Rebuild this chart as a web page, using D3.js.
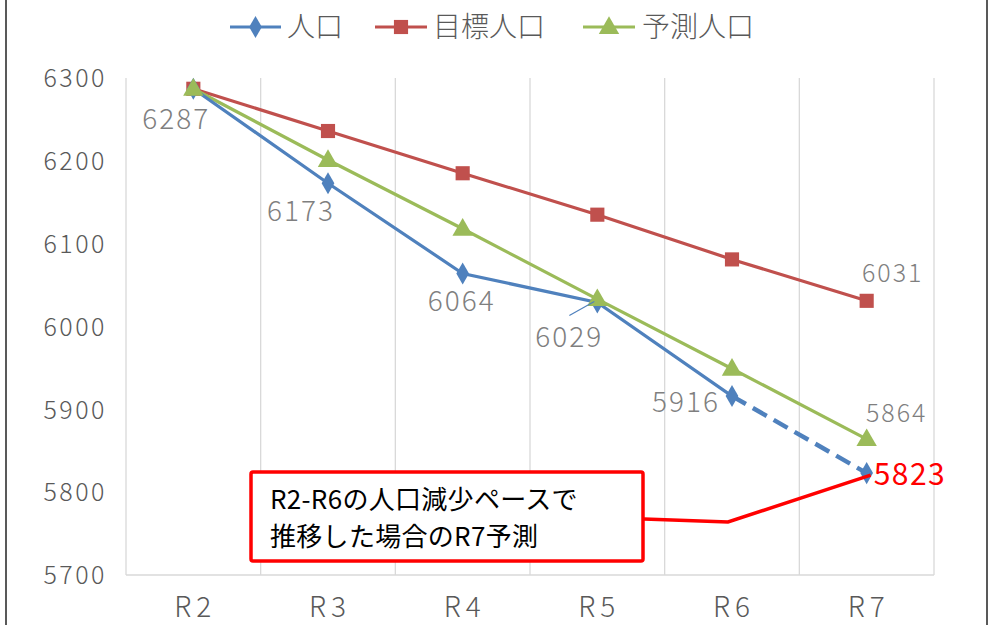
<!DOCTYPE html>
<html><head><meta charset="utf-8">
<script src="https://cdn.jsdelivr.net/npm/d3@7"></script>
<style>
html,body{margin:0;padding:0;background:#fff;}
svg{display:block;font-family:"Noto Sans CJK JP","Noto Sans",sans-serif;}
</style></head>
<body>
<script>
const categories = ["R2","R3","R4","R5","R6","R7"];
const population = [6287, 6173, 6064, 6029, 5916, 5823];
const targetPopulation = [6287, 6236, 6185, 6135, 6081, 6031];
const forecastPopulation = [6287, 6201, 6118, 6033, 5949, 5864];
const yTicks = [5700, 5800, 5900, 6000, 6100, 6200, 6300];
const seriesNames = ["人口", "目標人口", "予測人口"];
const annotationLines = ["R2-R6の人口減少ペースで", "推移した場合のR7予測"];

const W = 992, H = 625;
const svg = d3.select("body").append("svg").attr("width", W).attr("height", H);

const x = d3.scaleBand().domain(categories).range([126, 934]).paddingInner(0).paddingOuter(0);
const y = d3.scaleLinear().domain([5700, 6300]).range([575, 78]);
const cx = c => x(c) + x.bandwidth() / 2;

// frame
svg.append("line").attr("x1", 6).attr("x2", 6).attr("y1", 0).attr("y2", H).attr("stroke", "#222").attr("stroke-width", 1.5);
svg.append("line").attr("x1", 987).attr("x2", 987).attr("y1", 0).attr("y2", H).attr("stroke", "#222").attr("stroke-width", 1.5);

// vertical gridlines at category boundaries
const bounds = categories.map(c => x(c)).concat([x(categories[categories.length - 1]) + x.bandwidth()]);
svg.append("g").selectAll("line").data(bounds).join("line")
  .attr("x1", d => d).attr("x2", d => d).attr("y1", y(6300)).attr("y2", y(5700))
  .attr("stroke", "#d9d9d9").attr("stroke-width", 1.3);
svg.append("line").attr("x1", 126).attr("x2", 934).attr("y1", y(5700)).attr("y2", y(5700))
  .attr("stroke", "#d9d9d9").attr("stroke-width", 1.3);

// y axis labels
const yAxis = d3.axisLeft(y).tickValues(yTicks).tickSize(0).tickPadding(0).tickFormat(d3.format("d"));
const ya = svg.append("g").attr("transform", "translate(107,0)").call(yAxis);
ya.select(".domain").remove();
ya.selectAll("text").attr("font-size", 25).attr("font-weight", 300).attr("fill", "#595959")
  .attr("font-family", "'Noto Sans CJK JP'").attr("dy", "0.35em").attr("letter-spacing", 2.5);

// x axis labels
const xAxis = d3.axisBottom(x).tickSize(0).tickPadding(0);
const xa = svg.append("g").attr("transform", "translate(0,607)").call(xAxis);
xa.select(".domain").remove();
xa.selectAll("text").attr("font-size", 28).attr("font-weight", 300).attr("font-family", "'Noto Sans CJK JP'")
  .attr("fill", "#595959").attr("letter-spacing", 5).attr("dy", "0.35em").attr("dx", 2);

const colors = ["#4f81bd", "#c0504d", "#9bbb59"];
const line = d3.line().x((d, i) => cx(categories[i])).y(d => y(d));

svg.append("path").attr("d", line(targetPopulation)).attr("fill", "none").attr("stroke", colors[1]).attr("stroke-width", 3.2);
svg.append("path").attr("d", line(forecastPopulation)).attr("fill", "none").attr("stroke", colors[2]).attr("stroke-width", 3.2);
const popSolid = population.slice(0, 5);
svg.append("path").attr("d", line(popSolid)).attr("fill", "none").attr("stroke", colors[0]).attr("stroke-width", 3.2);
const dashLine = d3.line().x(d => cx(d[0])).y(d => y(d[1]));
svg.append("path").attr("d", dashLine([[categories[4], population[4]], [categories[5], population[5]]]))
  .attr("fill", "none").attr("stroke", colors[0]).attr("stroke-width", 4.5).attr("stroke-dasharray", "16,8");

// markers
const sym = (type, size) => d3.symbol().type(type).size(size)();
svg.append("g").selectAll("path").data(targetPopulation).join("path")
  .attr("d", sym(d3.symbolSquare, 200)).attr("fill", colors[1])
  .attr("transform", (d, i) => `translate(${cx(categories[i])},${y(d)})`);
svg.append("g").selectAll("path").data(population).join("path")
  .attr("d", sym(d3.symbolDiamond, 140)).attr("fill", colors[0])
  .attr("transform", (d, i) => `translate(${cx(categories[i])},${y(d)})`);
svg.append("g").selectAll("path").data(forecastPopulation).join("path")
  .attr("d", sym(d3.symbolTriangle, 180)).attr("fill", colors[2])
  .attr("transform", (d, i) => `translate(${cx(categories[i])},${y(d) + 1})`);

// data labels
const popOffsets = [[-17, 30], [-27, 28], [-1, 28], [-28, 35], [-46, 6]];
const labelG = svg.append("g").attr("font-size", 28).attr("font-weight", 300).attr("fill", "#7f7f7f")
  .attr("text-anchor", "middle").attr("letter-spacing", 2);
popOffsets.forEach((o, i) => {
  labelG.append("text").attr("x", cx(categories[i]) + o[0]).attr("y", y(population[i]) + o[1]).attr("dy", "0.35em").text(population[i]);
});
labelG.append("text").attr("x", cx("R7") + 26).attr("y", y(targetPopulation[5]) - 28).attr("dy", "0.35em").attr("font-size", 25).text(targetPopulation[5]);
labelG.append("text").attr("x", cx("R7") + 30).attr("y", y(forecastPopulation[5]) - 26).attr("dy", "0.35em").attr("font-size", 25).text(forecastPopulation[5]);

// leader line for 6029
svg.append("line").attr("x1", cx("R5") - 28).attr("y1", y(population[3]) + 13).attr("x2", cx("R5") - 3).attr("y2", y(population[3]) - 1)
  .attr("stroke", colors[0]).attr("stroke-width", 1.2);

// 5823 red
svg.append("text").attr("x", cx("R7") + 7).attr("y", y(population[5]) + 1).attr("dy", "0.35em")
  .attr("font-size", 30).attr("font-weight", 400).attr("fill", "#ff0000").attr("letter-spacing", 1.5).text(population[5]);

// annotation connector
svg.append("path").attr("d", d3.line()([[644, 519], [728, 522], [cx("R7") + 4, y(population[5]) + 2]]))
  .attr("fill", "none").attr("stroke", "#ff0000").attr("stroke-width", 3.5);
// annotation box
svg.append("rect").attr("x", 251).attr("y", 472).attr("width", 392).attr("height", 89).attr("rx", 2)
  .attr("fill", "#fff").attr("stroke", "#ff0000").attr("stroke-width", 3.5);
annotationLines.forEach((t, i) => {
  svg.append("text").attr("x", 270).attr("y", 500 + i * 37).attr("dy", "0.35em").attr("font-size", 26)
    .attr("fill", "#000").attr("letter-spacing", 0.3).text(t);
});

// legend
const legend = svg.append("g");
const legendItems = [
  {x1: 230, x2: 281, tx: 287, type: d3.symbolDiamond, size: 140},
  {x1: 375, x2: 427, tx: 433, type: d3.symbolSquare, size: 200},
  {x1: 583, x2: 635, tx: 642, type: d3.symbolTriangle, size: 180}
];
legendItems.forEach((it, i) => {
  legend.append("line").attr("x1", it.x1).attr("x2", it.x2).attr("y1", 27).attr("y2", 27).attr("stroke", colors[i]).attr("stroke-width", 3.2);
  legend.append("path").attr("d", sym(it.type, it.size)).attr("fill", colors[i]).attr("transform", `translate(${(it.x1 + it.x2) / 2},${i === 2 ? 28 : 27})`);
  legend.append("text").attr("x", it.tx).attr("y", 27).attr("dy", "0.35em").attr("font-size", 28).attr("font-weight", 300)
    .attr("fill", "#595959").text(seriesNames[i]);
});
</script>
</body></html>
